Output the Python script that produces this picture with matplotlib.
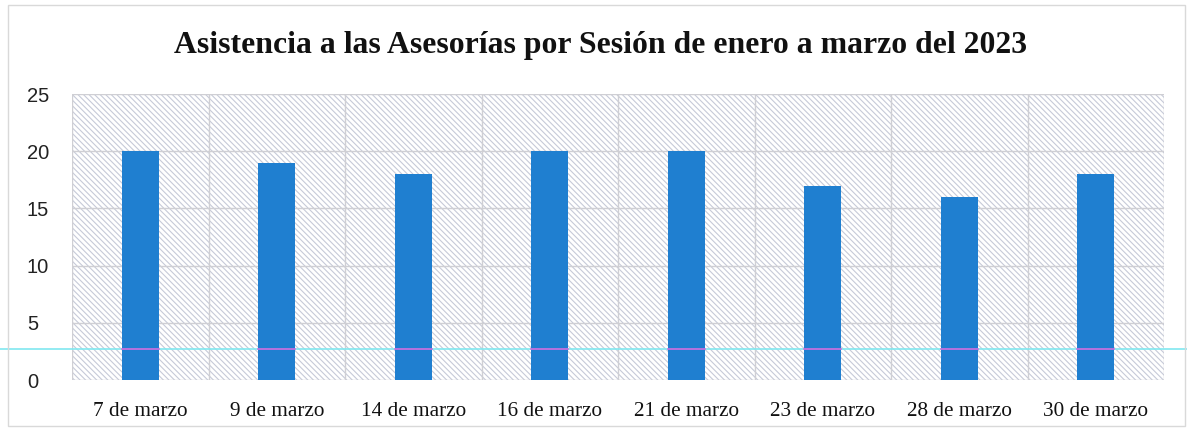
import matplotlib
matplotlib.use("Agg")
import matplotlib.pyplot as plt
from matplotlib.patches import Rectangle
from matplotlib.transforms import blended_transform_factory
import numpy as np

categories = ["7 de marzo", "9 de marzo", "14 de marzo", "16 de marzo",
              "21 de marzo", "23 de marzo", "28 de marzo", "30 de marzo"]
values = [20, 19, 18, 20, 20, 17, 16, 18]
yticks = [0, 5, 10, 15, 20, 25]
title = "Asistencia a las Asesorías por Sesión de enero a marzo del 2023"

W, H = 1187, 429
plt.rcParams['hatch.color'] = '#c6cad8'
plt.rcParams['hatch.linewidth'] = 0.8
fig = plt.figure(figsize=(W / 100, H / 100), dpi=100)
fig.patch.set_facecolor('white')

# chart border
fig.patches.append(Rectangle((8 / W, 1 - 426 / H), (1185 - 8) / W, (426 - 5) / H,
                             transform=fig.transFigure, fill=False,
                             edgecolor='#d9d9d9', linewidth=1.0))

ax = fig.add_axes([72 / W, 1 - 380 / H, (1164 - 72) / W, (380 - 94) / H])
n = len(categories)
x = np.arange(n)
ax.set_xlim(-0.5, n - 0.5)
ax.set_ylim(0, 25)

# hatched plot area background
ax.add_patch(Rectangle((0, 0), 1, 1, transform=ax.transAxes, facecolor='white',
                       edgecolor='#c6cad8', hatch='\\\\\\\\\\\\', linewidth=0, zorder=0))

# gridlines
for yv in yticks:
    ax.axhline(yv, color='#cfcfd4', linewidth=1.0, zorder=1)
for b in np.arange(-0.5, n, 1.0):
    ax.axvline(b, color='#cfcfd4', linewidth=1.0, zorder=1)

bars = ax.bar(x, values, width=0.27, color='#1f7fd0', zorder=3)

# scan artifact line
ya = 2.75
tr = blended_transform_factory(fig.transFigure, ax.transData)
ax.plot([0, 1], [ya, ya], transform=tr, color='#80e8f0', linewidth=1.2,
        clip_on=False, zorder=2)
for b in bars:
    ax.plot([b.get_x(), b.get_x() + b.get_width()], [ya, ya], color='#d070e0',
            linewidth=1.2, zorder=4)

for s in ax.spines.values():
    s.set_visible(False)
ax.set_yticks(yticks)
ax.set_yticklabels([str(v) for v in yticks], fontsize=14.5, family='Liberation Sans',
                   color='#222222')
ax.set_xticks(x)
ax.set_xticklabels(categories, fontsize=15.3, family='Liberation Serif', color='#111111')
ax.tick_params(axis='both', length=0)
ax.tick_params(axis='y', pad=32.5)
ax.tick_params(axis='x', pad=16)
for lbl in ax.get_yticklabels():
    lbl.set_horizontalalignment('left')

fig.text(601 / W, 1 - 45 / H, title, ha='center', va='center', fontsize=22.9,
         fontweight='bold', family='Liberation Serif', color='#111111')

fig.savefig('out.png', dpi=100)
